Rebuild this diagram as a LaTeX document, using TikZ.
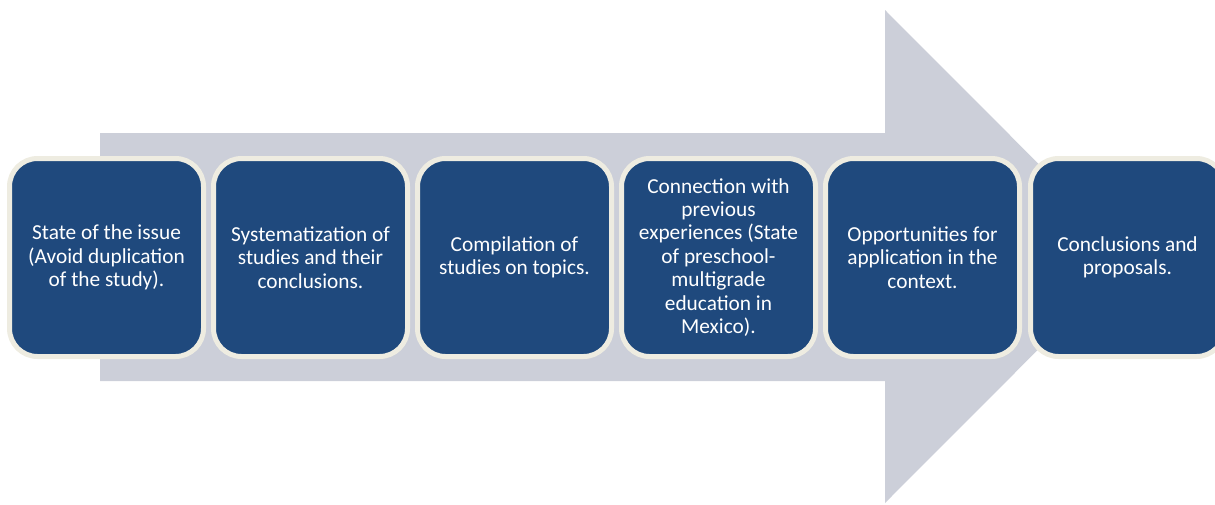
\documentclass[tikz,border=0pt]{standalone}
\usepackage{fontspec}
\setmainfont{Carlito}
\definecolor{arrowgrey}{HTML}{CCCFD9}
\definecolor{stepblue}{HTML}{1F497D}
\definecolor{stepedge}{HTML}{EEECE1}
\begin{document}
\begin{tikzpicture}[x=0.75pt,y=-0.75pt,
  stepbox/.style={rectangle, rounded corners=21pt, fill=stepblue, draw=stepedge,
    line width=3.75pt, minimum width=145.5pt, minimum height=148.5pt,
    text=white, align=center, inner sep=0pt,
    font=\fontsize{16}{17.6}\selectfont}]
  \useasboundingbox (0,0) rectangle (1215,504);
  \clip (0,0) rectangle (1215,504);
  % large background arrow
  \fill[arrowgrey] (100,133) -- (885,133) -- (885,10) -- (1131,256.5)
    -- (885,503) -- (885,381) -- (100,381) -- cycle;
  % process steps
  \node[stepbox] (s1) at (106.5,257.5) {State of the issue\\(Avoid duplication\\of the study).};
  \node[stepbox] (s2) at (310.5,257.5) {Systematization of\\studies and their\\conclusions.};
  \node[stepbox] (s3) at (514.5,257.5) {Compilation of\\studies on topics.};
  \node[stepbox] (s4) at (718.5,257.5) {Connection with\\previous\\experiences (State\\of preschool-\\multigrade\\education in\\Mexico).};
  \node[stepbox] (s5) at (922.5,257.5) {Opportunities for\\application in the\\context.};
  \node[stepbox] (s6) at (1127.5,257.5) {Conclusions and\\proposals.};
\end{tikzpicture}
\end{document}
